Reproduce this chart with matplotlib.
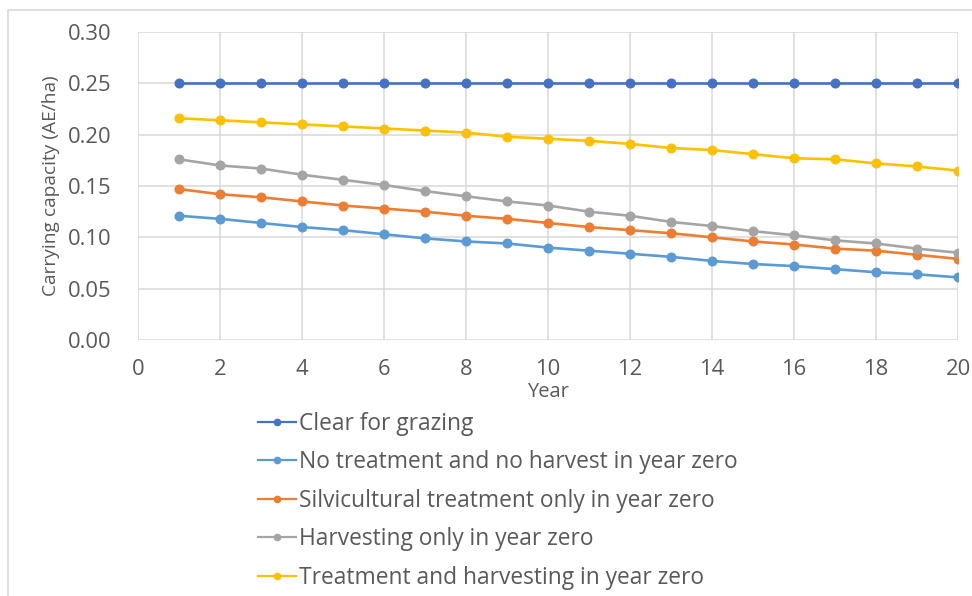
import matplotlib
matplotlib.use("Agg")
import matplotlib.pyplot as plt
from matplotlib.patches import Rectangle

years = list(range(1, 21))
clear_grazing = [0.25] * 20
no_treatment = [0.121, 0.118, 0.114, 0.110, 0.107, 0.103, 0.099, 0.096, 0.094, 0.090,
                0.087, 0.084, 0.081, 0.077, 0.074, 0.072, 0.069, 0.066, 0.064, 0.061]
silvicultural = [0.147, 0.142, 0.139, 0.135, 0.131, 0.128, 0.125, 0.121, 0.118, 0.114,
                 0.110, 0.107, 0.104, 0.100, 0.096, 0.093, 0.089, 0.087, 0.083, 0.079]
harvesting = [0.176, 0.170, 0.167, 0.161, 0.156, 0.151, 0.145, 0.140, 0.135, 0.131,
              0.125, 0.121, 0.115, 0.111, 0.106, 0.102, 0.097, 0.094, 0.089, 0.085]
treat_harvest = [0.216, 0.214, 0.212, 0.210, 0.208, 0.206, 0.204, 0.202, 0.198, 0.196,
                 0.194, 0.191, 0.187, 0.185, 0.181, 0.177, 0.176, 0.172, 0.169, 0.165]

labels = ["Clear for grazing",
          "No treatment and no harvest in year zero",
          "Silvicultural treatment only in year zero",
          "Harvesting only in year zero",
          "Treatment and harvesting in year zero"]
series = [clear_grazing, no_treatment, silvicultural, harvesting, treat_harvest]
colors = ["#4472C4", "#5B9BD5", "#ED7D31", "#A5A5A5", "#FFC000"]

x_ticks = [0, 2, 4, 6, 8, 10, 12, 14, 16, 18, 20]
y_ticks = [0.00, 0.05, 0.10, 0.15, 0.20, 0.25, 0.30]

plt.rcParams['font.family'] = ['Open Sans', 'DejaVu Sans']
W, H = 972, 596
fig = plt.figure(figsize=(W / 100, H / 100), dpi=100)
fig.patch.set_facecolor("white")

# chart frame
fig.add_artist(Rectangle((7.5 / W, -0.05), 1.1, 1 - 9.5 / H + 0.05,
                         transform=fig.transFigure, fill=False,
                         edgecolor="#d9d9d9", linewidth=1.2))

ax = fig.add_axes([138 / W, 1 - 340 / H, (958 - 138) / W, (340 - 32) / H])
for vals, lab, col in zip(series, labels, colors):
    ax.plot(years, vals, color=col, linewidth=1.9, marker="o",
            markersize=6.2, label=lab, zorder=3)

ax.set_xlim(0, 20)
ax.set_ylim(0, 0.30)
ax.set_xticks(x_ticks)
ax.set_yticks(y_ticks)
ax.set_yticklabels([f"{v:.2f}" for v in y_ticks])
ax.grid(True, color="#d9d9d9", linewidth=1.1, zorder=0)
ax.set_axisbelow(True)
for s in ax.spines.values():
    s.set_visible(False)
ax.tick_params(axis="both", length=0, colors="#595959", labelsize=15.8)
ax.tick_params(axis="y", pad=19)
ax.tick_params(axis="x", pad=14)
ax.set_xlabel("Year", color="#595959", fontsize=14.5, labelpad=1)
ax.set_ylabel("Carrying capacity (AE/ha)", color="#595959", fontsize=13.8, labelpad=6)

handles = []
for lab, col in zip(labels, colors):
    h, = ax.plot([], [], color=col, linewidth=1.6, marker="o", markersize=4.5, label=lab)
    handles.append(h)
leg = fig.legend(handles=handles, labels=labels, loc="upper left",
                 bbox_to_anchor=(258 / W, 1 - 412 / H), frameon=False,
                 fontsize=16.4, handlelength=1.67, handletextpad=0.13,
                 labelspacing=0.635, borderpad=0, borderaxespad=0,
                 labelcolor="#595959")

fig.savefig("out.png", dpi=100, facecolor="white")
